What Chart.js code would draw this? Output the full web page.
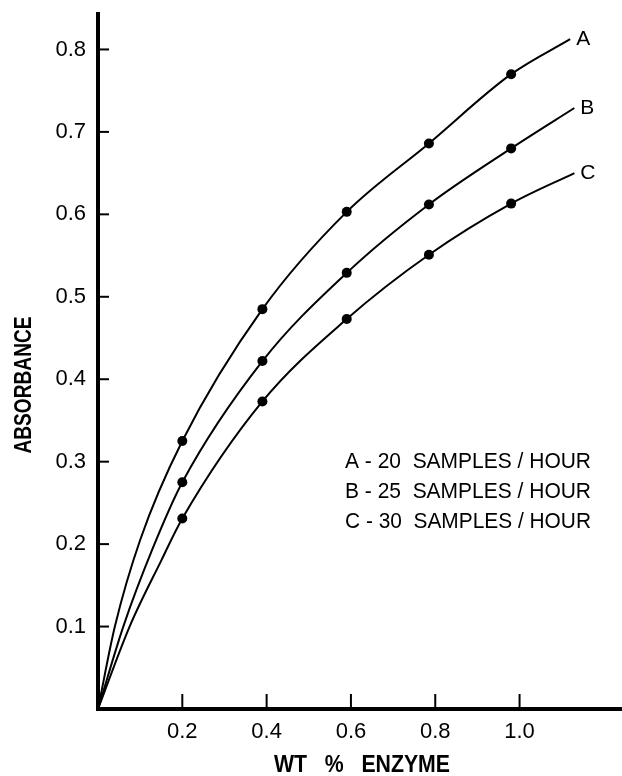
<!DOCTYPE html>
<html>
<head>
<meta charset="utf-8">
<script src="https://cdn.jsdelivr.net/npm/chart.js@4/dist/chart.umd.min.js"></script>
<style>
  html, body { margin: 0; padding: 0; background: #fff; }
  #wrap { width: 622px; height: 776px; }
</style>
</head>
<body>
<div id="wrap"><canvas id="enzymeChart"></canvas></div>
<script>
// measured points: wt % enzyme vs absorbance
const enzymeWt = [0.2, 0.39, 0.59, 0.785, 0.98];
const absA = [0.325, 0.485, 0.603, 0.686, 0.770];
const absB = [0.275, 0.422, 0.529, 0.612, 0.680];
const absC = [0.231, 0.373, 0.473, 0.551, 0.613];

// the drawn curves near the origin and where they stop
const startA = [[0, 0], [0.04, 0.1], [0.1, 0.205]];
const startB = [[0, 0], [0.06, 0.1], [0.13, 0.195]];
const startC = [[0, 0], [0.075, 0.1], [0.15, 0.18]];
const endA = [1.12, 0.8125];
const endB = [1.13, 0.729];
const endC = [1.13, 0.650];

const curveNames = ['A', 'B', 'C'];
const legendLines = ['A - 20  SAMPLES / HOUR', 'B - 25  SAMPLES / HOUR', 'C - 30  SAMPLES / HOUR'];
const xTicks = [0.2, 0.4, 0.6, 0.8, 1.0];
const yTicks = [0.1, 0.2, 0.3, 0.4, 0.5, 0.6, 0.7, 0.8];

const FONT = "'Liberation Sans', Arial, sans-serif";

function curvePoints(start, ys, end) {
  const pts = start.map(p => ({ x: p[0], y: p[1] }));
  enzymeWt.forEach((x, i) => pts.push({ x: x, y: ys[i] }));
  pts.push({ x: end[0], y: end[1] });
  return pts;
}

function dotPoints(ys) {
  return enzymeWt.map((x, i) => ({ x: x, y: ys[i] }));
}

function curveSet(pts) {
  return {
    data: pts,
    borderColor: '#000',
    borderWidth: 2,
    pointRadius: 0,
    cubicInterpolationMode: 'monotone',
    fill: false
  };
}

function dotSet(pts) {
  return {
    data: pts,
    showLine: false,
    pointRadius: 5,
    pointBackgroundColor: '#000',
    pointBorderColor: '#000',
    pointBorderWidth: 0
  };
}

const curves = [
  curvePoints(startA, absA, endA),
  curvePoints(startB, absB, endB),
  curvePoints(startC, absC, endC)
];

// no extra room for overhanging tick labels: the plot fills the frame
function noPadding(s) {
  s.paddingTop = 0;
  s.paddingBottom = 0;
  s.paddingLeft = 0;
  s.paddingRight = 0;
}

// tick marks inside the axes, curve letters, legend text and axis titles
const paperPlugin = {
  id: 'paper',
  afterDraw(chart) {
    const ctx = chart.ctx;
    const xs = chart.scales.x, ys = chart.scales.y;
    const area = chart.chartArea;
    ctx.save();
    ctx.strokeStyle = '#000';
    ctx.lineWidth = 2;
    xTicks.forEach(v => {
      const px = xs.getPixelForValue(v);
      ctx.beginPath();
      ctx.moveTo(px, area.bottom);
      ctx.lineTo(px, area.bottom - 15);
      ctx.stroke();
    });
    yTicks.forEach(v => {
      const py = ys.getPixelForValue(v);
      ctx.beginPath();
      ctx.moveTo(area.left, py);
      ctx.lineTo(area.left + 11, py);
      ctx.stroke();
    });

    ctx.fillStyle = '#000';
    ctx.textBaseline = 'middle';
    ctx.textAlign = 'left';
    ctx.font = '21px ' + FONT;
    curves.forEach((pts, i) => {
      const last = pts[pts.length - 1];
      ctx.fillText(curveNames[i], xs.getPixelForValue(last.x) + 6, ys.getPixelForValue(last.y));
    });

    ctx.font = '22px ' + FONT;
    legendLines.forEach((t, i) => {
      ctx.fillText(t, 345, 462 + i * 30, 246);
    });

    ctx.font = 'bold 23px ' + FONT;
    ctx.textAlign = 'center';
    ctx.fillText('WT   %   ENZYME', 362, 766, 176);

    ctx.translate(24, 385);
    ctx.rotate(-Math.PI / 2);
    ctx.font = 'bold 24px ' + FONT;
    ctx.fillText('ABSORBANCE', 0, 0, 137);
    ctx.restore();
  }
};

const ctx = document.getElementById('enzymeChart').getContext('2d');
const enzymeChart = new Chart(ctx, {
  type: 'line',
  data: {
    datasets: [
      curveSet(curves[0]), curveSet(curves[1]), curveSet(curves[2]),
      dotSet(dotPoints(absA)), dotSet(dotPoints(absB)), dotSet(dotPoints(absC))
    ]
  },
  options: {
    responsive: true,
    maintainAspectRatio: false,
    animation: false,
    layout: { autoPadding: false, padding: { top: 14, right: 0, left: 0, bottom: 0 } },
    plugins: { legend: { display: false }, tooltip: { enabled: false } },
    scales: {
      x: {
        type: 'linear',
        min: 0,
        max: 1.243,
        afterBuildTicks: s => { s.ticks = xTicks.map(v => ({ value: v })); },
        afterFit: s => { s.height = 67; noPadding(s); },
        grid: { display: false, drawTicks: false },
        border: { display: true, color: '#000', width: 4 },
        ticks: {
          color: '#000',
          padding: 10,
          maxRotation: 0,
          font: { family: FONT, size: 22 },
          callback: v => v.toFixed(1)
        }
      },
      y: {
        type: 'linear',
        min: 0,
        max: 0.843,
        afterBuildTicks: s => { s.ticks = yTicks.map(v => ({ value: v })); },
        afterFit: s => { s.width = 98; noPadding(s); },
        grid: { display: false, drawTicks: false },
        border: { display: true, color: '#000', width: 4 },
        ticks: {
          color: '#000',
          padding: 12,
          font: { family: FONT, size: 22 },
          callback: v => v.toFixed(1)
        }
      }
    }
  },
  plugins: [paperPlugin]
});
</script>
</body>
</html>
